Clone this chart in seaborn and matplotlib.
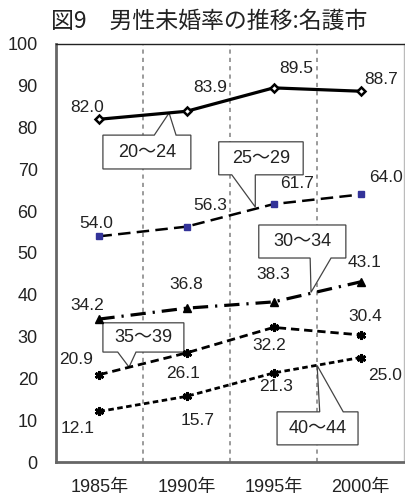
import matplotlib
matplotlib.use("Agg")
import matplotlib.pyplot as plt
from matplotlib.patches import Polygon
import seaborn as sns
import pandas as pd

# --- data -------------------------------------------------------------
years = ["1985年", "1990年", "1995年", "2000年"]
age_groups = ["20～24", "25～29", "30～34", "35～39", "40～44"]
rate_20_24 = [82.0, 83.9, 89.5, 88.7]
rate_25_29 = [54.0, 56.3, 61.7, 64.0]
rate_30_34 = [34.2, 36.8, 38.3, 43.1]
rate_35_39 = [20.9, 26.1, 32.2, 30.4]
rate_40_44 = [12.1, 15.7, 21.3, 25.0]
title = "図9　男性未婚率の推移:名護市"

series = [rate_20_24, rate_25_29, rate_30_34, rate_35_39, rate_40_44]

# --- styling ----------------------------------------------------------
sns.set_theme(style="white")
plt.rcParams["font.family"] = ["Liberation Sans", "Noto Sans CJK JP", "DejaVu Sans"]
plt.rcParams["lines.scale_dashes"] = False

styles = [
    dict(ls="-", lw=2.3, marker="D", ms=4.5, mfc="white", mec="black", mew=1.8, color="black"),
    dict(ls=(0, (9, 4.5)), lw=1.8, marker="s", ms=5, mfc="#333399", mec="#333399", color="black"),
    dict(ls=(0, (11, 5, 1.6, 5)), lw=2.3, marker="^", ms=5.5, mfc="black", mec="black", color="black"),
    dict(ls=(0, (6, 3.5)), lw=2.0, marker=(6, 2, 0), ms=6.5, mew=2, mec="black", color="black"),
    dict(ls=(0, (4, 2.5)), lw=2.0, marker=(6, 2, 0), ms=6.5, mew=2, mec="black", color="black"),
]

# value label offsets (pixels) relative to each point
label_offsets = [
    [(-12, 12), (24, 24), (23, 19), (20, 12)],
    [(-3, 13), (24, 21), (23, 21), (25, 17)],
    [(-12, 14), (0, 24), (0, 27), (4, 19)],
    [(-23, 15), (-3, -21), (-4, -18), (5, 18)],
    [(-22, -17), (11, -24), (2, -14), (24, -18)],
]

# callouts: box (x0, x1, y0, y1), tail side, tail base (t0, t1), apex (x, y)
callouts = [
    ((0.04, 1.05, 70.1, 78.2), "top", (0.63, 0.88), (0.80, 83.5)),
    ((1.37, 2.34, 68.7, 76.6), "bottom", (1.52, 1.79), (1.79, 61.0)),
    ((1.83, 2.83, 48.8, 56.7), "bottom", (2.42, 2.66), (2.43, 40.6)),
    ((0.04, 0.97, 26.3, 33.3), "bottom", (0.21, 0.42), (0.34, 22.7)),
    ((2.04, 2.97, 4.1, 12.0), "top", (2.53, 2.80), (2.50, 23.1)),
]

fig = plt.figure(figsize=(4.05, 4.97), dpi=100)
ax = fig.add_axes([0.138, 0.0704, 0.86, 0.8411])

x_pos = list(range(len(years)))
for name, vals, st, offs in zip(age_groups, series, styles, label_offsets):
    df = pd.DataFrame({"x": x_pos, "y": vals})
    sns.lineplot(data=df, x="x", y="y", ax=ax, color=st["color"], linestyle=st["ls"],
                 linewidth=st["lw"], marker=st["marker"], markersize=st["ms"],
                 markerfacecolor=st.get("mfc", "black"), markeredgecolor=st["mec"],
                 markeredgewidth=st.get("mew", 1), zorder=4)
    for xi, v, (dx, dy) in zip(x_pos, vals, offs):
        ax.annotate(f"{v:.1f}", (xi, v), xytext=(dx, dy), textcoords="offset pixels",
                    ha="center", va="center", fontsize=12.5, color="#222222", zorder=6)

# callout boxes with pointer tails
for (box, side, (t0, t1), (ax_, ay_)), name in zip(callouts, age_groups):
    x0, x1, y0, y1 = box
    if side == "top":
        verts = [(x0, y0), (x1, y0), (x1, y1), (t1, y1), (ax_, ay_), (t0, y1), (x0, y1)]
    else:
        verts = [(x0, y1), (x1, y1), (x1, y0), (t1, y0), (ax_, ay_), (t0, y0), (x0, y0)]
    ax.add_patch(Polygon(verts, closed=True, facecolor="white", edgecolor="#444444",
                         linewidth=0.9, zorder=3))
    ax.text((x0 + x1) / 2, (y0 + y1) / 2, name, ha="center", va="center",
            fontsize=13, color="#222222", zorder=5)

# vertical dashed separators between years
for xv in [0.5, 1.5, 2.5]:
    ax.axvline(xv, color="#808080", lw=1.1, ls=(0, (3, 3)), zorder=1)

ax.set_xlim(-0.5, 3.5)
ax.set_ylim(0, 100)
ax.set_xticks(x_pos)
ax.set_xticklabels(years, fontsize=13, color="#222222")
ax.set_yticks(range(0, 101, 10))
ax.set_yticklabels([str(v) for v in range(0, 101, 10)], fontsize=13, color="#222222")
ax.tick_params(axis="both", length=0)
ax.tick_params(axis="x", pad=12)
ax.tick_params(axis="y", pad=13)
ax.set_xlabel("")
ax.set_ylabel("")

for side in ["left", "bottom"]:
    ax.spines[side].set_color("#666666")
    ax.spines[side].set_linewidth(2.0)
ax.spines["top"].set_color("#222222")
ax.spines["top"].set_linewidth(1.0)
ax.spines["right"].set_color("#bbbbbb")
ax.spines["right"].set_linewidth(1.0)

fig.text(0.516, 0.958, title, ha="center", va="center", fontsize=16.5,
         family=["Noto Sans CJK JP", "DejaVu Sans"], color="#222222")

fig.savefig("out.png", dpi=100)
